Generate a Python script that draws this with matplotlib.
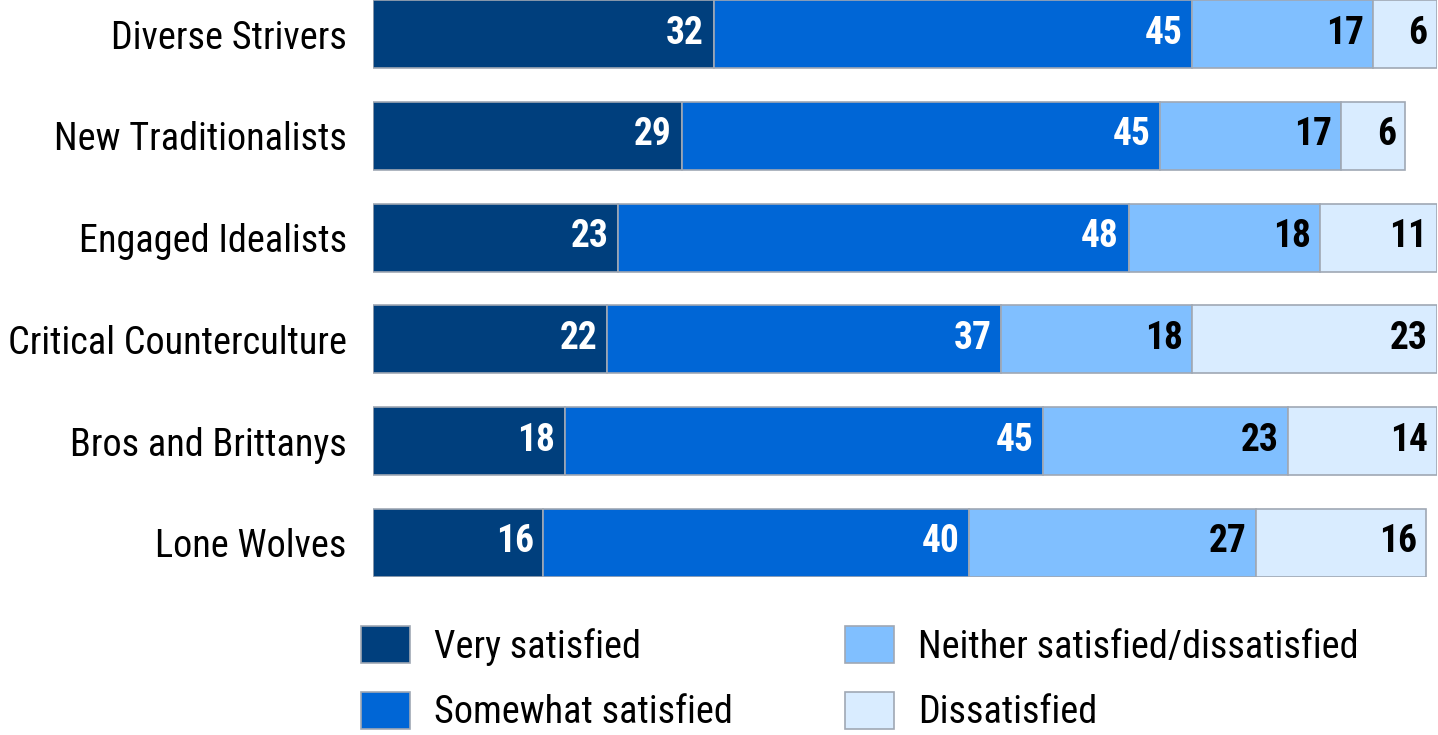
import numpy as np
import matplotlib.pyplot as plt

plt.rcParams['font.family'] = ['Roboto Condensed', 'DejaVu Sans']

segments = ['Diverse Strivers', 'New Traditionalists', 'Engaged Idealists',
            'Critical Counterculture', 'Bros and Brittanys', 'Lone Wolves']
answers = ['Very satisfied', 'Somewhat satisfied',
           'Neither satisfied/dissatisfied', 'Dissatisfied']
very = [32, 29, 23, 22, 18, 16]
somewhat = [45, 45, 48, 37, 45, 40]
neither = [17, 17, 18, 18, 23, 27]
dissatisfied = [6, 6, 11, 23, 14, 16]

colors = ['#003f7d', '#0066d6', '#80bfff', '#d9ecff']
text_colors = ['white', 'white', 'black', 'black']

fig = plt.figure(figsize=(14.38, 7.35), dpi=100)
ax = fig.add_axes([0.2594, 0.215, 0.740, 0.785])

y = np.arange(len(segments))
left = np.zeros(len(segments))
for vals, name, col, tcol in zip([very, somewhat, neither, dissatisfied],
                                 answers, colors, text_colors):
    vals = np.array(vals)
    ax.barh(y, vals, left=left, height=0.67, color=col,
            edgecolor='#a0a8b4', linewidth=1.2, label=name)
    # value labels sit inside the right end of each segment
    for yi, (l, v) in enumerate(zip(left, vals)):
        ax.text(l + v - 0.9, yi - 0.01, str(v), ha='right', va='center',
                fontsize=27, fontweight='bold', color=tcol)
    left = left + vals

ax.set_xlim(0, 100)
ax.set_ylim(len(segments) - 1 + 0.335, -0.335)
ax.set_yticks(y)
ax.set_yticklabels(segments, fontsize=27.5)
ax.tick_params(axis='y', length=0, pad=19)
ax.set_xticks([])
for s in ax.spines.values():
    s.set_visible(False)

fig.legend(loc='upper left', bbox_to_anchor=(361 / 1438, 1 - 626 / 735), ncol=2,
           fontsize=27.5, frameon=False, handlelength=1.28, handleheight=1.12,
           handletextpad=0.62, columnspacing=2.95, labelspacing=0.68,
           borderpad=0, borderaxespad=0)

fig.savefig('out.png', dpi=100)
